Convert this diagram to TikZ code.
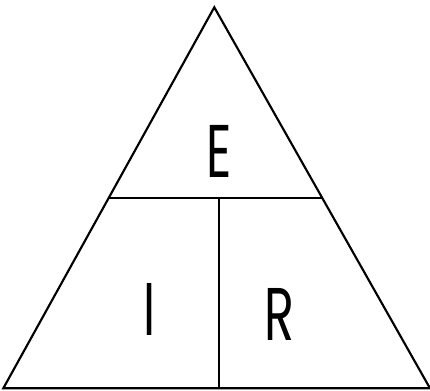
\documentclass[tikz,border=0pt]{standalone}
\usepackage{fontspec}
\setmainfont{Poppins}
\usepackage{tikz}
\usetikzlibrary{calc,positioning}

\begin{document}
\begin{tikzpicture}[
    x=0.75pt,y=-0.75pt,
    edge/.style={draw=black,line width=1.6pt,line join=miter},
    letter/.style={inner sep=0pt,font=\fontsize{56}{56}\selectfont,xscale=0.66}
  ]
    \useasboundingbox (0,0) rectangle (430,391);
    \coordinate (apex) at (214.3,7.3);
    \coordinate (bl) at (3.3,388.3);
    \coordinate (br) at (430,388.3);
    \coordinate (ml) at ($(apex)!0.5!(bl)$);
    \coordinate (mr) at ($(apex)!0.5!(br)$);
    \coordinate (vtop) at (219,0 |- ml);
    \coordinate (vbot) at (219,0 |- bl);
    \draw[edge] (apex) -- (bl) -- (br) -- cycle;
    \draw[edge] (ml) -- (mr);
    \draw[edge] (vtop) -- (vbot);
    \node[letter] (e) at (218.7,151) {E};
    \node[letter] (i) at (150,309.5) {I};
    \node[letter] (r) at (279.5,314.5) {R};
  \end{tikzpicture}
\end{document}
